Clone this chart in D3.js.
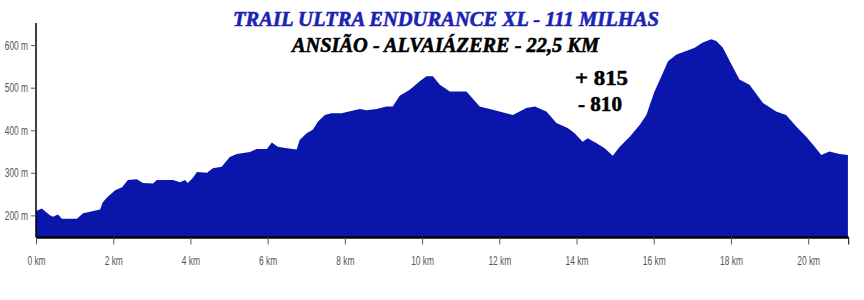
<!DOCTYPE html>
<html>
<head>
<meta charset="utf-8">
<script src="https://cdn.jsdelivr.net/npm/d3@7"></script>
<style>
  body { margin: 0; background: #fff; }
  svg { display: block; }
</style>
</head>
<body>
<svg id="chart" width="864" height="300"></svg>
<script>
// elevation profile (km, m)
const distKm = [0, 0.15, 0.36, 0.44, 0.57, 0.67, 1.06, 1.22, 1.66, 1.73, 1.84, 2.05, 2.23, 2.38,
  2.61, 2.77, 3.03, 3.13, 3.55, 3.73, 3.86, 3.93, 4.06, 4.17, 4.43, 4.58, 4.81, 5.02, 5.20,
  5.54, 5.72, 5.98, 6.11, 6.26, 6.50, 6.75, 6.83, 7.01, 7.17, 7.30, 7.48, 7.65, 7.91, 8.39,
  8.56, 8.82, 9.08, 9.24, 9.42, 9.68, 9.94, 10.11, 10.28, 10.46, 10.72, 11.15, 11.49, 11.83,
  12.35, 12.70, 12.92, 13.22, 13.48, 13.77, 13.95, 14.16, 14.29, 14.51, 14.73, 14.94, 15.12,
  15.38, 15.64, 15.81, 16.02, 16.20, 16.37, 16.59, 16.84, 17.06, 17.27, 17.49, 17.62, 17.79,
  17.97, 18.22, 18.48, 18.83, 19.17, 19.43, 19.69, 19.95, 20.17, 20.34, 20.55, 20.81, 21.03];
const elevM = [210, 216, 200, 197, 202, 192, 192, 205, 214, 231, 242, 259, 266, 283,
  285, 276, 275, 283, 283, 278, 283, 276, 288, 302, 300, 311, 314, 337, 344,
  349, 356, 356, 371, 361, 358, 355, 377, 393, 401, 420, 436, 440, 440, 450,
  447, 450, 456, 456, 481, 495, 515, 527, 527, 507, 491, 491, 456, 448,
  436, 452, 456, 444, 417, 405, 393, 373, 381, 370, 358, 340, 361,
  385, 413, 436, 491, 527, 562, 578, 586, 594, 606, 614, 610, 594,
  562, 519, 507, 464, 444, 436, 409, 385, 361, 342, 350, 344, 342];

const xTicks = [0, 2, 4, 6, 8, 10, 12, 14, 16, 18, 20];
const yTicks = [200, 300, 400, 500, 600];

const titleLine = "TRAIL ULTRA ENDURANCE XL - 111 MILHAS";
const subLine = "ANSIÃO - ALVAIÁZERE - 22,5 KM";
const climbLines = ["+ 815", "- 810"];

const svg = d3.select("#chart");
const plotLeft = 36, plotRight = 848.7, plotTop = 23, plotBottom = 237.5;

const x = d3.scaleLinear().domain([0, 21.05]).range([plotLeft, plotRight]);
const y = d3.scaleLinear().domain([148, 652]).range([plotBottom, plotTop]);

const profile = distKm.map((d, i) => ({ km: d, m: elevM[i] }));

// filled profile
svg.append("path")
    .datum(profile)
    .attr("fill", "#0a16ab")
    .attr("d", d3.area()
        .x(d => x(d.km))
        .y0(plotBottom)
        .y1(d => y(d.m)));

const labelFont = "'Liberation Sans', Arial, sans-serif";

// squeeze the axis labels, the original uses a narrow face
function narrow(sel) {
    sel.attr("fill", "#555")
        .style("font-family", labelFont)
        .style("font-size", "12.5px")
        .each(function() {
            const len = this.getComputedTextLength();
            d3.select(this).attr("textLength", len * 0.67).attr("lengthAdjust", "spacingAndGlyphs");
        });
}

// y axis
const yAxis = svg.append("g")
    .attr("transform", `translate(${plotLeft},0)`)
    .call(d3.axisLeft(y).tickValues(yTicks).tickFormat(d => d + " m").tickSize(5).tickPadding(3));
yAxis.select(".domain").attr("stroke", "#000").attr("stroke-width", 1.5)
    .attr("d", `M0,${plotTop}V${plotBottom}`);
yAxis.selectAll(".tick line").attr("stroke", "#555");
yAxis.selectAll(".tick text").call(narrow);

// x axis
const xAxis = svg.append("g")
    .attr("transform", `translate(0,${plotBottom})`)
    .call(d3.axisBottom(x).tickValues(xTicks).tickFormat(d => d + " km").tickSize(7).tickPadding(12));
xAxis.select(".domain").attr("stroke", "#000").attr("stroke-width", 2.5)
    .attr("d", `M${plotLeft},0H${plotRight}`);
xAxis.selectAll(".tick line").attr("stroke", "#555");
xAxis.selectAll(".tick text").call(narrow);
// end tick at the right of the axis
xAxis.append("line")
    .attr("x1", plotRight).attr("x2", plotRight)
    .attr("y1", 0).attr("y2", 7)
    .attr("stroke", "#000");

// titles
svg.append("text")
    .attr("x", 233).attr("y", 26)
    .attr("textLength", 426).attr("lengthAdjust", "spacingAndGlyphs")
    .attr("fill", "#1c22b4")
    .attr("stroke", "#1c22b4").attr("stroke-width", 0.6)
    .style("font-family", "'Liberation Serif', 'DejaVu Serif', serif")
    .style("font-weight", "bold").style("font-style", "italic")
    .style("font-size", "21px")
    .text(titleLine);

svg.append("text")
    .attr("x", 292).attr("y", 52)
    .attr("textLength", 307).attr("lengthAdjust", "spacingAndGlyphs")
    .attr("fill", "#000")
    .attr("stroke", "#000").attr("stroke-width", 0.6)
    .style("font-family", "'Liberation Serif', 'DejaVu Serif', serif")
    .style("font-weight", "bold").style("font-style", "italic")
    .style("font-size", "21px")
    .text(subLine);

svg.selectAll(".climb")
    .data(climbLines)
    .join("text")
    .attr("class", "climb")
    .attr("x", (d, i) => i === 0 ? 575 : 578)
    .attr("y", (d, i) => 85 + i * 25.5)
    .attr("textLength", (d, i) => i === 0 ? 53 : 44)
    .attr("lengthAdjust", "spacingAndGlyphs")
    .attr("fill", "#000")
    .attr("stroke", "#000").attr("stroke-width", 0.5)
    .style("font-family", "'Liberation Serif', 'DejaVu Serif', serif")
    .style("font-weight", "bold")
    .style("font-size", "20px")
    .text(d => d);
</script>
</body>
</html>
